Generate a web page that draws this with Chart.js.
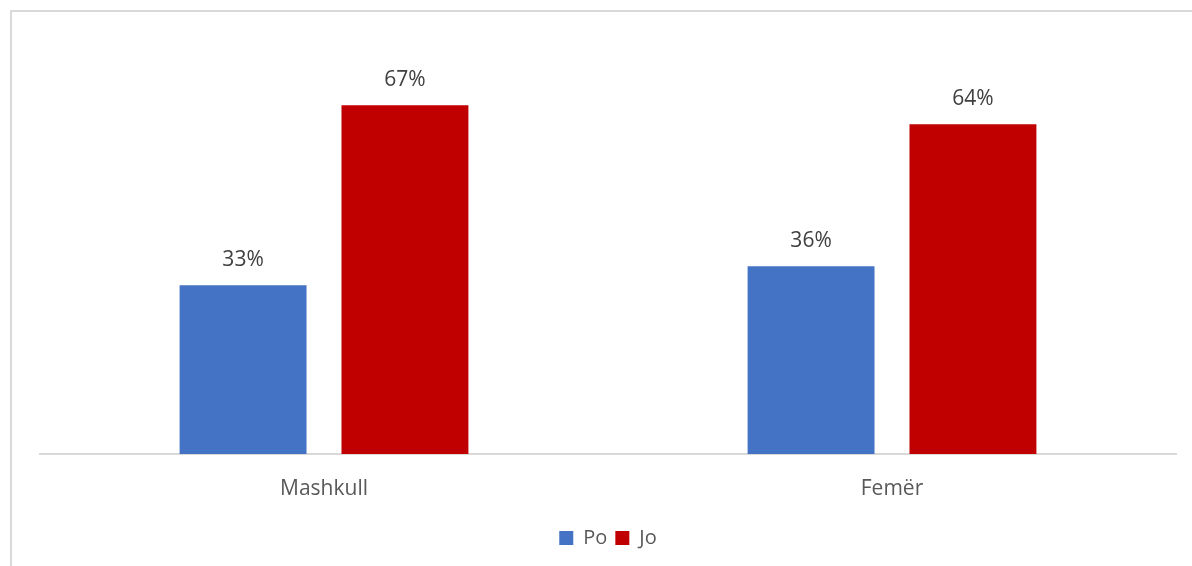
<!DOCTYPE html>
<html>
<head>
<meta charset="utf-8">
<script src="https://cdn.jsdelivr.net/npm/chart.js@4"></script>
<style>
  html, body { margin: 0; padding: 0; background: #fff; }
  #wrap { position: relative; width: 1192px; height: 566px; overflow: hidden; }
  #frame { position: absolute; left: 10px; top: 10px; width: 1200px; height: 600px;
           border-left: 2px solid #d9d9d9; border-top: 2px solid #d9d9d9; }
  canvas { position: absolute; left: 0; top: 0; }
</style>
</head>
<body>
<div id="wrap">
  <div id="frame"></div>
  <canvas id="chart" width="1192" height="566"></canvas>
</div>
<script>
const categories = ['Mashkull', 'Femër'];
const poValues = [32.6, 36.3];
const joValues = [67.4, 63.7];
const seriesNames = ['Po', 'Jo'];

const FONT = '"Open Sans", sans-serif';

document.addEventListener('DOMContentLoaded', function () {
  const ctx = document.getElementById('chart').getContext('2d');

  // draw the rounded percentage above each bar
  const valueLabels = {
    id: 'valueLabels',
    afterDatasetsDraw(chart) {
      const c = chart.ctx;
      c.save();
      c.font = '21px ' + FONT;
      c.fillStyle = '#404040';
      c.textAlign = 'center';
      c.textBaseline = 'middle';
      chart.data.datasets.forEach((ds, i) => {
        chart.getDatasetMeta(i).data.forEach((bar, j) => {
          c.fillText(Math.round(ds.data[j]) + '%', bar.x, bar.y - 25);
        });
      });
      c.restore();
    }
  };

  new Chart(ctx, {
    type: 'bar',
    data: {
      labels: categories,
      datasets: [{
        label: seriesNames[0],
        data: poValues,
        backgroundColor: '#4472C4'
      }, {
        label: seriesNames[1],
        data: joValues,
        backgroundColor: '#C00000'
      }]
    },
    options: {
      responsive: false,
      animation: false,
      categoryPercentage: 0.57,
      barPercentage: 0.784,
      layout: { padding: { left: 40, right: 16, top: 40, bottom: 8 } },
      plugins: {
        legend: {
          position: 'bottom',
          labels: {
            boxWidth: 14,
            boxHeight: 14,
            padding: 8,
            color: '#595959',
            font: { size: 20, family: FONT }
          }
        },
        tooltip: { enabled: false }
      },
      scales: {
        x: {
          grid: { display: false },
          border: { color: '#d9d9d9', width: 2 },
          ticks: {
            padding: 14,
            color: '#595959',
            font: { size: 21, family: FONT }
          },
          afterFit(scale) { scale.height = 66; }
        },
        y: {
          display: false,
          min: 0,
          max: 80
        }
      }
    },
    plugins: [valueLabels]
  });
});
</script>
</body>
</html>
